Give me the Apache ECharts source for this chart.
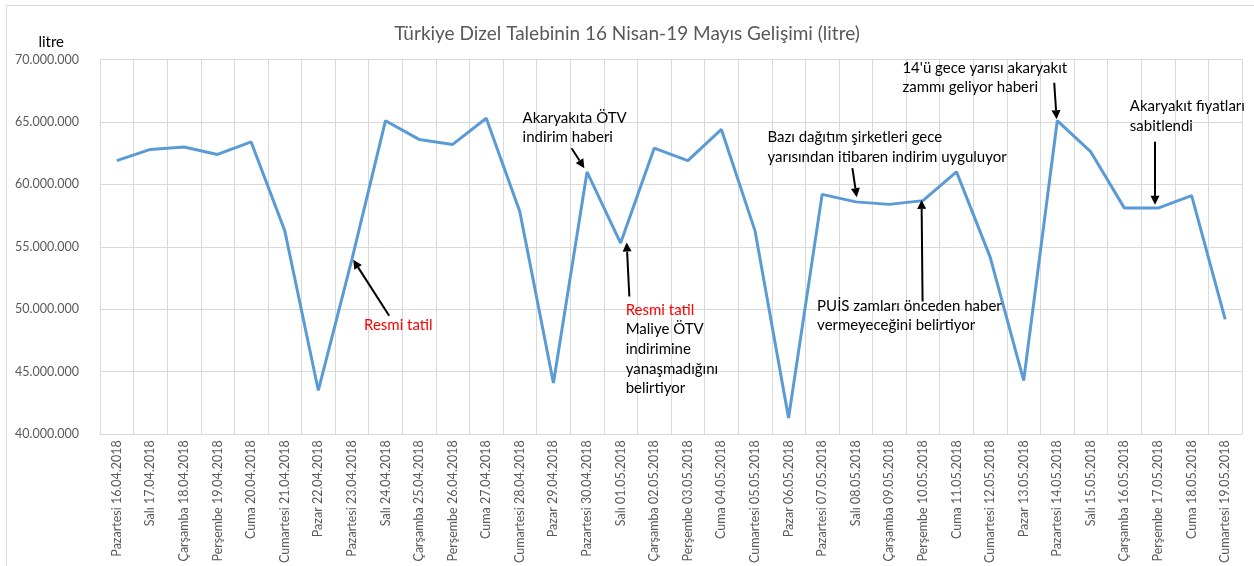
<!DOCTYPE html>
<html><head><meta charset="utf-8">
<script src="https://cdn.jsdelivr.net/npm/echarts@6/dist/echarts.min.js"></script>
<style>html,body{margin:0;padding:0;background:#fff}#c{width:1254px;height:566px}</style>
</head><body><div id="c"></div>
<script>
const categories = [
  "Pazartesi 16.04.2018","Salı 17.04.2018","Çarşamba 18.04.2018","Perşembe 19.04.2018","Cuma 20.04.2018",
  "Cumartesi 21.04.2018","Pazar 22.04.2018","Pazartesi 23.04.2018","Salı 24.04.2018","Çarşamba 25.04.2018",
  "Perşembe 26.04.2018","Cuma 27.04.2018","Cumartesi 28.04.2018","Pazar 29.04.2018","Pazartesi 30.04.2018",
  "Salı 01.05.2018","Çarşamba 02.05.2018","Perşembe 03.05.2018","Cuma 04.05.2018","Cumartesi 05.05.2018",
  "Pazar 06.05.2018","Pazartesi 07.05.2018","Salı 08.05.2018","Çarşamba 09.05.2018","Perşembe 10.05.2018",
  "Cuma 11.05.2018","Cumartesi 12.05.2018","Pazar 13.05.2018","Pazartesi 14.05.2018","Salı 15.05.2018",
  "Çarşamba 16.05.2018","Perşembe 17.05.2018","Cuma 18.05.2018","Cumartesi 19.05.2018"
];
const dieselLitres = [
  61900000,62800000,63000000,62400000,63400000,56300000,43500000,54000000,65100000,63600000,
  63200000,65300000,57800000,44100000,61000000,55300000,62900000,61900000,64400000,56300000,
  41300000,59200000,58600000,58400000,58700000,61000000,54200000,44300000,65100000,62600000,
  58100000,58100000,59100000,49200000
];
const titleText = "Türkiye Dizel Talebinin 16 Nisan-19 Mayıs Gelişimi (litre)";
const yUnit = "litre";
const yMin = 40000000, yMax = 70000000, yStep = 5000000;

// Annotation texts: lines, colours, anchor (category index, value)
const noteLines = [
  ["Resmi tatil"],
  ["Akaryakıta ÖTV", "indirim haberi"],
  ["Resmi tatil", "Maliye ÖTV", "indirimine", "yanaşmadığını", "belirtiyor"],
  ["Bazı dağıtım şirketleri gece", "yarısından itibaren indirim uyguluyor"],
  ["PUİS zamları önceden haber", "vermeyeceğini belirtiyor"],
  ["14'ü gece yarısı akaryakıt", "zammı geliyor haberi"],
  ["Akaryakıt fiyatları", "sabitlendi"]
];
const noteColors = [
  ["#ff0000"],
  ["#000", "#000"],
  ["#ff0000", "#000", "#000", "#000", "#000"],
  ["#000", "#000"],
  ["#000", "#000"],
  ["#000", "#000"],
  ["#000", "#000"]
];
const noteAnchors = [
  [7.36, 48760000],
  [12.08, 65320000],
  [15.15, 49960000],
  [19.37, 63780000],
  [20.85, 50280000],
  [23.39, 69340000],
  [30.16, 66280000]
];
// Arrows: [fromCat, fromVal, toCat, toVal]
const arrows = [
  [8.11, 49480000, 7.04, 53960000],
  [13.54, 62900000, 13.92, 61300000],
  [15.26, 51020000, 15.18, 55340000],
  [21.90, 61300000, 22.03, 58980000],
  [23.99, 50620000, 23.96, 58760000],
  [27.91, 68140000, 27.98, 65220000],
  [30.91, 63420000, 30.91, 58360000]
];

const FONT = 'Lato, "Open Sans", sans-serif';
function fmt(v) { return String(v).replace(/\B(?=(\d{3})+(?!\d))/g, '.'); }

const chart = echarts.init(document.getElementById('c'), null, {renderer: 'canvas'});
chart.setOption({
  animation: false,
  backgroundColor: '#fff',
  textStyle: {fontFamily: FONT},
  title: {
    text: titleText, left: 'center', top: 19,
    textStyle: {color: '#595959', fontSize: 19, fontWeight: 'normal', fontFamily: FONT}
  },
  grid: {left: 100, right: 12, top: 59.5, bottom: 131.5, containLabel: false},
  xAxis: {
    type: 'category', data: categories, boundaryGap: true,
    axisLine: {show: true, lineStyle: {color: '#d9d9d9', width: 1}},
    axisTick: {show: false},
    splitLine: {show: true, lineStyle: {color: '#d9d9d9', width: 1}},
    axisLabel: {rotate: 90, interval: 0, margin: 6, color: '#595959', fontSize: 12.5, fontFamily: FONT}
  },
  yAxis: {
    type: 'value', min: yMin, max: yMax, interval: yStep,
    name: yUnit, nameLocation: 'end', nameGap: 10,
    nameTextStyle: {color: '#000', fontSize: 15, fontFamily: FONT, align: 'right', padding: [0, 36, 0, 0]},
    axisLine: {show: false}, axisTick: {show: false},
    splitLine: {show: true, lineStyle: {color: '#d9d9d9', width: 1}},
    axisLabel: {color: '#595959', fontSize: 12.5, margin: 21, fontFamily: FONT, formatter: fmt}
  },
  series: [{
    type: 'line', data: dieselLitres, showSymbol: false, symbol: 'none',
    lineStyle: {color: '#5b9bd5', width: 3}, itemStyle: {color: '#5b9bd5'}
  }]
});

function px(ci, v) {
  const i0 = Math.floor(ci), f = ci - i0;
  const p0 = chart.convertToPixel({gridIndex: 0}, [i0, v]);
  const p1 = chart.convertToPixel({gridIndex: 0}, [i0 + 1, v]);
  return [p0[0] + f * (p1[0] - p0[0]), p0[1]];
}

const graphics = [{
  type: 'rect', silent: true, z: -1,
  shape: {x: 6.5, y: 5.5, width: 1270, height: 600},
  style: {fill: 'none', stroke: '#d9d9d9', lineWidth: 1}
}];
const LH = 19.7;
noteLines.forEach((lines, k) => {
  const p = px(noteAnchors[k][0], noteAnchors[k][1]);
  lines.forEach((t, j) => {
    graphics.push({
      type: 'text', z: 10,
      style: {text: t, x: p[0], y: p[1] + j * LH, fill: noteColors[k][j],
        font: '15px ' + FONT, textAlign: 'left', textVerticalAlign: 'middle'}
    });
  });
});
arrows.forEach(a => {
  const s = px(a[0], a[1]), e = px(a[2], a[3]);
  const ang = Math.atan2(e[1] - s[1], e[0] - s[0]);
  const L = 9, W = 4.5;
  const bx = e[0] - L * Math.cos(ang), by = e[1] - L * Math.sin(ang);
  const nx = -Math.sin(ang), ny = Math.cos(ang);
  graphics.push({
    type: 'line', z: 10,
    shape: {x1: s[0], y1: s[1], x2: bx, y2: by},
    style: {stroke: '#000', lineWidth: 2}
  });
  graphics.push({
    type: 'polygon', z: 10,
    shape: {points: [[e[0], e[1]], [bx + nx * W, by + ny * W], [bx - nx * W, by - ny * W]]},
    style: {fill: '#000'}
  });
});
chart.setOption({graphic: graphics});
</script>
</body></html>
